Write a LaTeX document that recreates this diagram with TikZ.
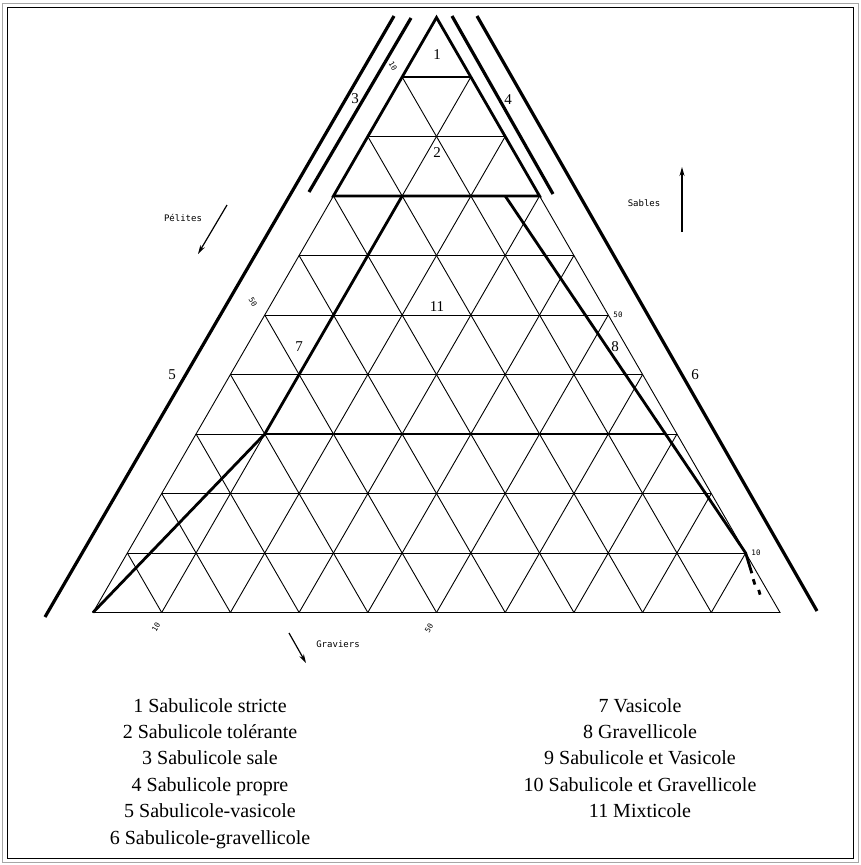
\documentclass[tikz,border=0pt]{standalone}
\usepackage{fontspec}
\setmainfont{Liberation Serif}
\newfontfamily\plotfont{DejaVu Sans Mono}
\usetikzlibrary{arrows.meta}
\begin{document}
\begin{tikzpicture}[x=1pt,y=-1pt,
  gridline/.style={line width=0.9pt},
  thickline/.style={line width=2.8pt},
  band/.style={line width=3.2pt},
  regnum/.style={font=\fontsize{15}{15}\selectfont},
  axlbl/.style={font=\plotfont\fontsize{9}{9}\selectfont},
  ticklbl/.style={font=\plotfont\fontsize{7.5}{7.5}\selectfont,inner sep=1pt},
  legend/.style={font=\fontsize{20}{20}\selectfont,anchor=base},
  axarrow/.style={line width=1.2pt,-{Stealth[length=9pt,width=5pt]}}]
\useasboundingbox (0,0) rectangle (860,865);
\fill[white] (0,0) rectangle (860,865);
\draw[gray!70,line width=1pt] (2.5,3) rectangle (858.5,862.5);
\draw[black,line width=1pt] (7,7) rectangle (853,858);

\begin{scope}[shift={(93,612.5)},x={(68.7pt,0pt)},y={(34.35pt,59.5pt)}]
  \coordinate (A) at (0,0);
  \coordinate (B) at (10,0);
  \coordinate (C) at (0,10);
  \foreach \k in {1,...,9} {
    \draw[gridline] (\k,0) -- (\k,10-\k);
    \draw[gridline] (\k,0) -- (0,\k);
  }
  \foreach \k in {1,...,8} \draw[gridline] (0,\k) -- (10-\k,\k);
  \draw[gridline] (0,7) -- (A) -- (B) -- (3,7);
  \draw[thickline,line join=miter] (0,7) -- (C) -- (3,7) -- cycle;
  \draw[thickline] (0,9) -- (1,9);
  \draw[thickline,line join=round] (1,7) -- (1,3) -- (A);
  \draw[thickline] (1,3) -- (6.8333,3);
  \draw[thickline] (2.5,7) -- (9,1) -- (9.26,0.66);
  \draw[thickline] (9.33,0.56) -- (9.40,0.47);
  \draw[thickline] (9.50,0.38) -- (9.56,0.30);
\end{scope}

% outer bands
\draw[band] (45,617) -- (394,16);
\draw[band] (411,18) -- (309,192);
\draw[band] (452,16) -- (553,194);
\draw[band] (477,16) -- (817,611);

% region numbers
\node[regnum] (n1) at (437,55) {1};
\node[regnum] (n2) at (437,153) {2};
\node[regnum] (n3) at (355,99) {3};
\node[regnum] (n4) at (508,100) {4};
\node[regnum] (n5) at (172,375) {5};
\node[regnum] (n6) at (695,375) {6};
\node[regnum] (n7) at (299,347) {7};
\node[regnum] (n8) at (615,347) {8};
\node[regnum] (n11) at (437,307) {11};

% tick labels
\node[ticklbl,rotate=-60] (t1) at (393,66) {10};
\node[ticklbl,rotate=-60] (t2) at (253,302) {50};
\node[ticklbl,rotate=60] (t3) at (156,627) {10};
\node[ticklbl,rotate=60] (t4) at (429,628) {50};
\node[ticklbl] (t5) at (618,315) {50};
\node[ticklbl] (t6) at (756,553) {10};

% axis labels and arrows
\node[axlbl] (pel) at (183,218) {Pélites};
\coordinate (pa1) at (227,205); \coordinate (pa2) at (198,254);
\draw[axarrow] (pa1) -- (pa2);
\node[axlbl] (sab) at (644,203) {Sables};
\coordinate (sa1) at (682,232); \coordinate (sa2) at (682,167);
\draw[axarrow] (sa1) -- (sa2);
\node[axlbl] (grav) at (338,644) {Graviers};
\coordinate (ga1) at (289,633); \coordinate (ga2) at (306,663);
\draw[axarrow] (ga1) -- (ga2);

% legend
\node[legend] (l1) at (210,712) {1 Sabulicole stricte};
\node[legend] (l2) at (210,738.4) {2 Sabulicole tolérante};
\node[legend] (l3) at (210,764.8) {3 Sabulicole sale};
\node[legend] (l4) at (210,791.2) {4 Sabulicole propre};
\node[legend] (l5) at (210,817.6) {5 Sabulicole-vasicole};
\node[legend] (l6) at (210,844) {6 Sabulicole-gravellicole};
\node[legend] (l7) at (640,712) {7 Vasicole};
\node[legend] (l8) at (640,738.4) {8 Gravellicole};
\node[legend] (l9) at (640,764.8) {9 Sabulicole et Vasicole};
\node[legend] (l10) at (640,791.2) {10 Sabulicole et Gravellicole};
\node[legend] (l11) at (640,817.6) {11 Mixticole};
\end{tikzpicture}
\end{document}
